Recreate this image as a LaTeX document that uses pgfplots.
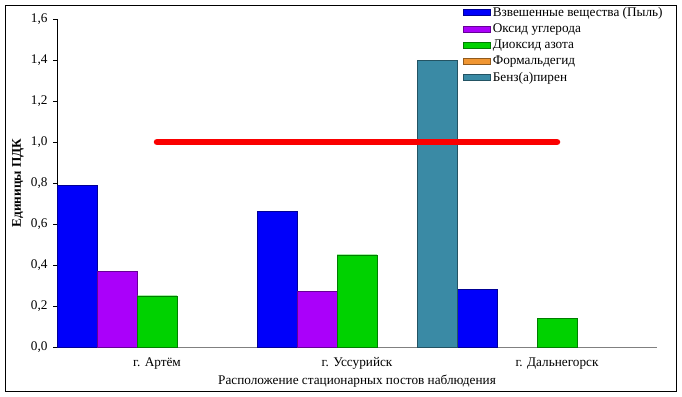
\documentclass[border=0pt]{standalone}
\usepackage{fontspec}
\setmainfont{Liberation Serif}
\usepackage{pgfplots}
\pgfplotsset{compat=1.18}
\definecolor{cBlue}{RGB}{0,0,250}
\definecolor{cPurple}{RGB}{170,0,250}
\definecolor{cGreen}{RGB}{0,210,0}
\definecolor{cOrange}{RGB}{240,150,50}
\definecolor{cTeal}{RGB}{58,138,165}
\definecolor{cRed}{RGB}{250,0,0}
\begin{document}
\begin{tikzpicture}
\useasboundingbox (0,0) rectangle (682bp,397bp);
\draw[line width=1.1bp] (5.5bp,5.5bp) rectangle (676.5bp,391.5bp);
\begin{axis}[
  at={(57bp,50bp)}, anchor=south west,
  scale only axis, width=600bp, height=328bp,
  xmin=-0.5, xmax=2.5, ymin=0, ymax=1.6,
  axis x line*=bottom, axis y line*=left,
  x axis line style={gray, -}, y axis line style={black, -},
  xtick={0,1,2},
  xticklabels={г. Артём, г. Уссурийск, г. Дальнегорск},
  x tick style={draw=none},
  ytick={0,0.2,...,1.6},
  y tick style={black, line width=0.6bp},
  tick align=outside, major tick length=4bp,
  yticklabel style={xshift=-2bp, /pgf/number format/.cd, fixed, fixed zerofill, precision=1, use comma, assume math mode=true},
  tick label style={font=\fontsize{13.3}{15}\selectfont},
  xticklabel style={yshift=-3bp},
  xlabel={Расположение стационарных постов наблюдения},
  xlabel style={at={(axis description cs:0.5,-0.104)}, anchor=center, font=\fontsize{13.3}{15}\selectfont},
  ylabel={\bfseries Единицы ПДК},
  ylabel style={at={(axis description cs:-0.065,0.5)}, anchor=center, rotate=0, font=\fontsize{13.3}{15}\selectfont},
  ybar, bar width=0.2,
  legend style={at={(axis description cs:0.677,1.043)}, anchor=north west, draw=none, fill=none,
    font=\fontsize{13.3}{15}\selectfont, cells={anchor=west}, inner sep=0pt, row sep=2bp},
  legend image code/.code={\fill[#1] (0bp,-3bp) rectangle (27bp,3bp);},
  clip=false,
]
\addplot[fill=cBlue, draw=cBlue!60!black, bar shift=-0.4] coordinates {(0,0.79) (1,0.66) (2,0.28)};
\addlegendentry{Взвешенные вещества (Пыль)}
\addplot[fill=cPurple, draw=cPurple!60!black, bar shift=-0.2] coordinates {(0,0.37) (1,0.27)};
\addlegendentry{Оксид углерода}
\addplot[fill=cGreen, draw=cGreen!60!black, bar shift=0] coordinates {(0,0.25) (1,0.45) (2,0.14)};
\addlegendentry{Диоксид азота}
\addlegendimage{fill=cOrange, draw=cOrange!60!black}
\addlegendentry{Формальдегид}
\addplot[fill=cTeal, draw=cTeal!60!black, bar shift=0.4] coordinates {(1,1.40)};
\addlegendentry{Бенз(а)пирен}
\addplot[sharp plot, cRed, line width=6.5bp, line cap=round, forget plot, no markers] coordinates {(0,1) (1,1) (2,1)};
\end{axis}
\end{tikzpicture}
\end{document}
